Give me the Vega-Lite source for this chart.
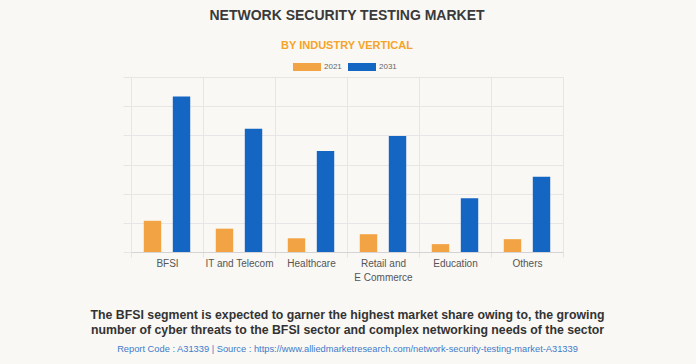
{
  "$schema": "https://vega.github.io/schema/vega-lite/v6.json",
  "width": 432,
  "height": 175,
  "autosize": {"type": "none"},
  "padding": {"left": 131, "top": 77, "right": 133, "bottom": 112},
  "background": "#f9f8f5",
  "config": {
    "font": "Liberation Sans",
    "view": {"stroke": null}
  },
  "title": {
    "text": "NETWORK SECURITY TESTING MARKET",
    "subtitle": "BY INDUSTRY VERTICAL",
    "anchor": "middle",
    "font": "Liberation Sans",
    "fontSize": 14,
    "fontWeight": "bold",
    "color": "#3a3a3a",
    "subtitleFont": "Liberation Sans",
    "subtitleFontSize": 11,
    "subtitleFontWeight": "bold",
    "subtitleColor": "#f5a42a",
    "subtitlePadding": 17,
    "offset": 2
  },
  "data": {
    "values": [
      {"segment": "BFSI", "year": "2021", "value": 1.07},
      {"segment": "BFSI", "year": "2031", "value": 5.33},
      {"segment": "IT and Telecom", "year": "2021", "value": 0.80},
      {"segment": "IT and Telecom", "year": "2031", "value": 4.23},
      {"segment": "Healthcare", "year": "2021", "value": 0.47},
      {"segment": "Healthcare", "year": "2031", "value": 3.46},
      {"segment": "Retail and E Commerce", "year": "2021", "value": 0.61},
      {"segment": "Retail and E Commerce", "year": "2031", "value": 3.98},
      {"segment": "Education", "year": "2021", "value": 0.27},
      {"segment": "Education", "year": "2031", "value": 1.84},
      {"segment": "Others", "year": "2021", "value": 0.44},
      {"segment": "Others", "year": "2031", "value": 2.58}
    ]
  },
  "layer": [
    {
      "mark": {"type": "bar"},
      "encoding": {
        "x": {
          "field": "segment",
          "type": "nominal",
          "sort": null,
          "scale": {"paddingInner": 0, "paddingOuter": 0},
          "axis": {
            "orient": "bottom",
            "labelAngle": 0,
            "labelFont": "Liberation Sans",
            "labelFontSize": 10,
            "labelColor": "#555555",
            "labelLineHeight": 14,
            "labelPadding": 1,
            "labelExpr": "datum.value == 'Retail and E Commerce' ? ['Retail and', 'E Commerce'] : datum.label",
            "grid": true,
            "gridColor": "#e6e6e6",
            "tickBand": "extent",
            "ticks": true,
            "tickSize": 5,
            "tickColor": "#e3e3e3",
            "domain": true,
            "domainColor": "#d4d4d4",
            "title": [
              "The BFSI segment is expected to garner the highest market share owing to, the growing",
              "number of cyber threats to the BFSI sector and complex networking needs of the sector"
            ],
            "titleFont": "Liberation Sans",
            "titleFontSize": 12.3,
            "titleFontWeight": "bold",
            "titleColor": "#333333",
            "titleLineHeight": 15,
            "titlePadding": 26
          }
        },
        "xOffset": {
          "field": "year",
          "type": "nominal",
          "scale": {"paddingInner": 0.4, "paddingOuter": 0.44}
        },
        "y": {
          "field": "value",
          "type": "quantitative",
          "scale": {"domain": [0, 6], "nice": false},
          "axis": {
            "values": [0, 1, 2, 3, 4, 5, 6],
            "labels": false,
            "domain": false,
            "grid": true,
            "gridColor": "#e6e6e6",
            "ticks": true,
            "tickSize": 8,
            "tickColor": "#e6e6e6",
            "title": null
          }
        },
        "color": {
          "field": "year",
          "type": "nominal",
          "scale": {"domain": ["2021", "2031"], "range": ["#f2a344", "#1565c2"]},
          "legend": {
            "orient": "none",
            "legendX": 162,
            "legendY": -24,
            "direction": "horizontal",
            "title": null,
            "symbolType": "M-1,-0.2857H1V0.2857H-1Z",
            "symbolSize": 784,
            "symbolStrokeWidth": 0,
            "labelFont": "Liberation Sans",
            "labelFontSize": 8,
            "labelColor": "#666666",
            "labelOffset": 3,
            "columnPadding": 6,
            "padding": 0
          }
        }
      }
    },
    {
      "mark": {"type": "text", "text": ""},
      "encoding": {
        "x": {
          "field": "segment",
          "type": "nominal",
          "sort": null,
          "axis": {
            "orient": "bottom",
            "labels": false,
            "ticks": false,
            "domain": false,
            "grid": false,
            "title": "Report Code : A31339  |  Source : https://www.alliedmarketresearch.com/network-security-testing-market-A31339",
            "titleFont": "Liberation Sans",
            "titleFontSize": 9.3,
            "titleFontWeight": "normal",
            "titleColor": "#3d7bc9",
            "titlePadding": 92
          }
        }
      }
    }
  ],
  "resolve": {"axis": {"x": "independent"}}
}
